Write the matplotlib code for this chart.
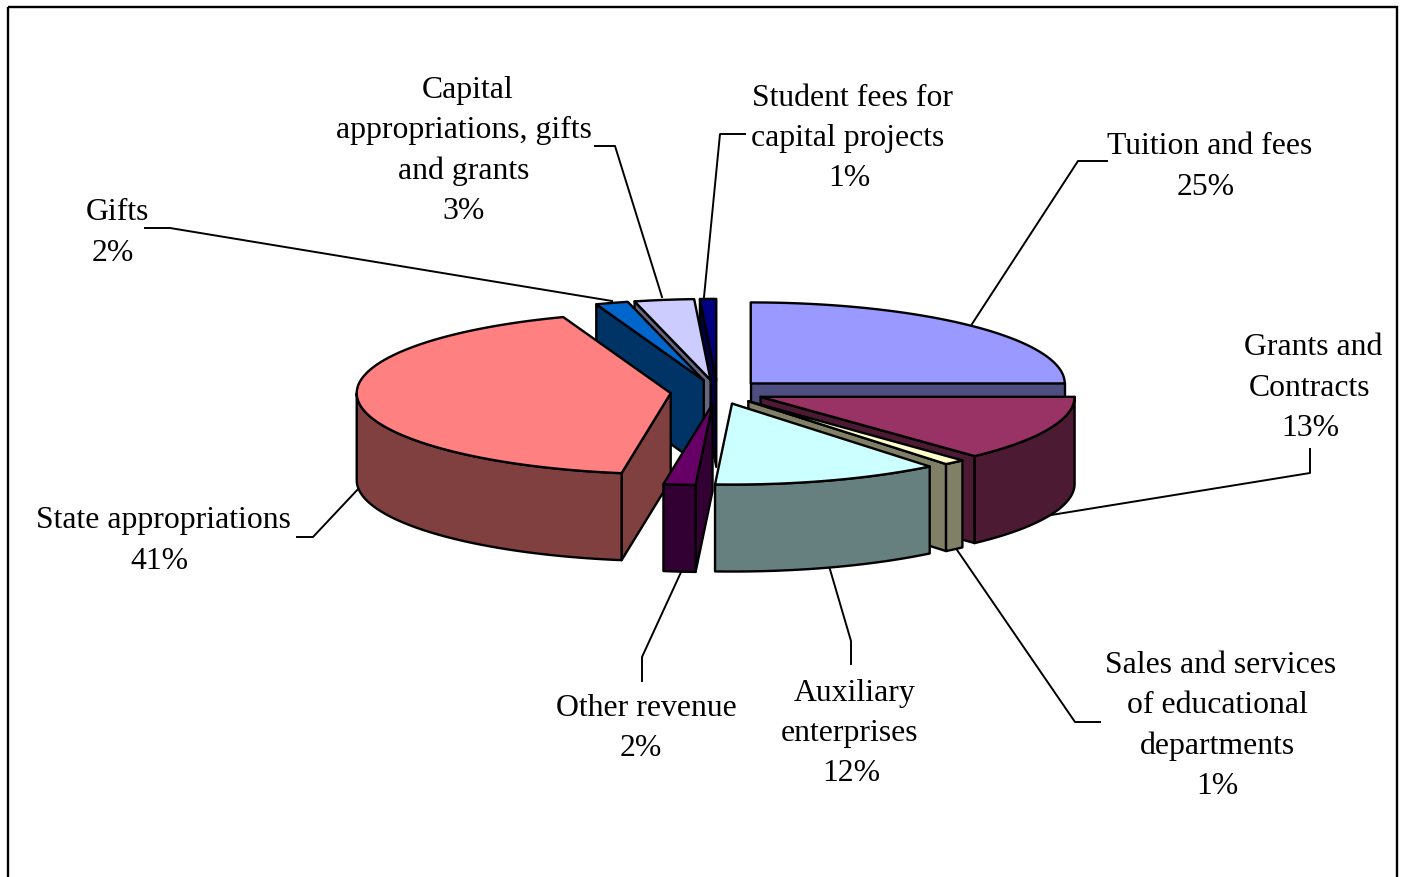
import numpy as np
import matplotlib
matplotlib.use('Agg')
import matplotlib.pyplot as plt
from matplotlib.patches import Polygon, Rectangle
from matplotlib.colors import to_rgb

# Slice shares (clockwise from 12 o'clock)
names = ['Tuition', 'Grants', 'Sales', 'Auxiliary', 'Other', 'State', 'Gifts', 'Capital', 'Student']
shares = [25.0, 13.06, 1.1, 11.7, 1.64, 41.94, 1.67, 3.06, 0.83]
colors = ['#9999FF', '#993366', '#FFFFCC', '#CCFFFF', '#660066', '#FF8080', '#0066CC', '#CCCCFF', '#000080']

# Label lines: text, centre x, centre y
labels = [
    ('Student fees for', 853, 95), ('capital projects', 848, 135), ('1%', 849, 175),
    ('Tuition and fees', 1210, 143), ('25%', 1206, 184),
    ('Grants and', 1313, 344), ('Contracts', 1309, 385), ('13%', 1310, 425),
    ('Sales and services', 1221, 662), ('of educational', 1217, 702),
    ('departments', 1217, 743), ('1%', 1217, 783),
    ('Auxiliary', 855, 690), ('enterprises', 850, 730), ('12%', 851, 770),
    ('Other revenue', 646, 705), ('2%', 641, 745),
    ('State appropriations', 163, 517), ('41%', 159, 558),
    ('Gifts', 117, 209), ('2%', 113, 250),
    ('Capital', 468, 87), ('appropriations, gifts', 464, 127),
    ('and grants', 464, 168), ('3%', 464, 208),
]

leaders = [
    [(1107, 162), (1078, 162), (972, 325)],
    [(1310, 450), (1310, 474), (1045, 517)],
    [(1100, 723), (1075, 723), (955, 548)],
    [(851, 665), (851, 642), (829, 567)],
    [(642, 682), (642, 658), (682, 571)],
    [(297, 538), (313, 538), (360, 488)],
    [(145, 229), (170, 229), (612, 302)],
    [(595, 147), (615, 147), (662, 298)],
    [(745, 135), (720, 135), (704, 298)],
]

# Pie geometry in image pixels
cx, cy = 717.5, 393
rx, ry = 314, 81
depth = 87
explode = 47
lw = 1.7

fig = plt.figure(figsize=(14.03, 8.78), dpi=100)
ax = fig.add_axes([0, 0, 1, 1])
ax.set_xlim(0, 1403)
ax.set_ylim(878, 0)
ax.axis('off')

ax.add_patch(Rectangle((8, 7.5), 1389, 900, fill=False, ec='black', lw=lw, clip_on=True))

for pts in leaders:
    xs, ys = zip(*pts)
    ax.plot(xs, ys, color='black', lw=1.4, zorder=1)


def pt(t, ax0, ay0):
    return ax0 + rx * np.sin(t), ay0 - ry * np.cos(t)


edges = np.radians(np.cumsum([0] + shares) * 3.6)
slices = []
for i in range(len(shares)):
    t0, t1 = edges[i], edges[i + 1]
    m = (t0 + t1) / 2
    ax0 = cx + explode * np.sin(m)
    ay0 = cy - explode * np.cos(m) * ry / rx
    slices.append((t0, t1, m, ax0, ay0, colors[i]))

# back to front
order = sorted(range(len(slices)), key=lambda i: slices[i][4])


def wall_faces_us(t, m, ax0, ay0):
    ex, ey = pt(t, ax0, ay0)
    mx, my = pt(m, ax0, ay0)
    dx = ex - ax0
    if abs(dx) < 1e-6:
        return False
    return my < ay0 + (ey - ay0) / dx * (mx - ax0)


z = 2
for i in order:
    t0, t1, m, ax0, ay0, col = slices[i]
    dark = tuple(c * 0.5 for c in to_rgb(col))
    # flat cut faces
    for t in (t0, t1):
        if wall_faces_us(t, m, ax0, ay0):
            ex, ey = pt(t, ax0, ay0)
            ax.add_patch(Polygon([(ax0, ay0), (ex, ey), (ex, ey + depth), (ax0, ay0 + depth)],
                                 closed=True, fc=dark, ec='black', lw=lw, joinstyle='round', zorder=z))
            z += 1
    # curved outer wall, only the front half of the ellipse shows
    a = max(t0, np.pi / 2)
    b = min(t1, 3 * np.pi / 2)
    if b > a:
        tt = np.linspace(a, b, 80)
        x, y = pt(tt, ax0, ay0)
        wall = np.r_[np.c_[x, y], np.c_[x[::-1], y[::-1] + depth]]
        ax.add_patch(Polygon(wall, closed=True, fc=dark, ec='black', lw=lw, joinstyle='round', zorder=z))
        z += 1
    # top face
    tt = np.linspace(t0, t1, 120)
    x, y = pt(tt, ax0, ay0)
    top = np.r_[[(ax0, ay0)], np.c_[x, y]]
    ax.add_patch(Polygon(top, closed=True, fc=col, ec='black', lw=lw, joinstyle='round', zorder=z))
    z += 1

for text, x, y in labels:
    ax.text(x, y + 3.5, text, ha='center', va='center', family='Liberation Serif',
            fontsize=22.9, color='black', zorder=200)

fig.savefig('out.png', dpi=100, facecolor='white')
